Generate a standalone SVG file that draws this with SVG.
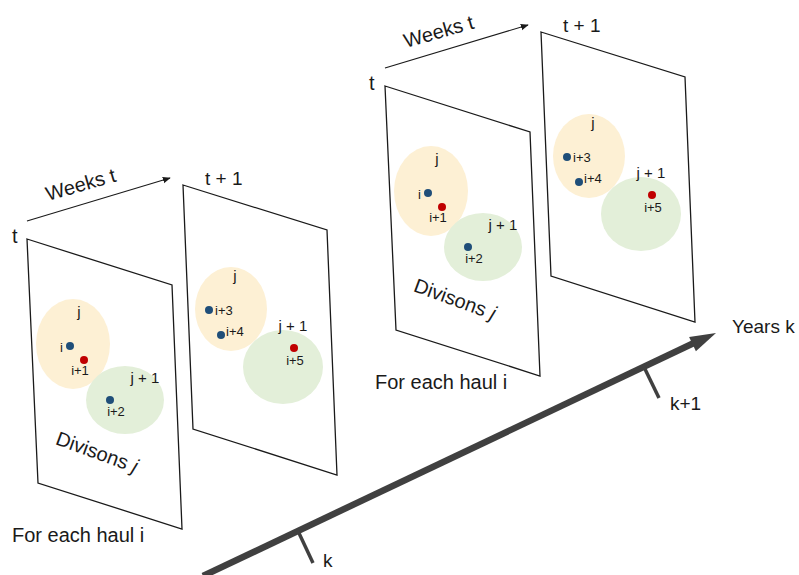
<svg xmlns="http://www.w3.org/2000/svg" width="799" height="575" viewBox="0 0 799 575">
<style>
  text { font-family: "Liberation Sans", Arial, sans-serif; fill: #1a1a1a; }
  .panel { fill: #ffffff; stroke: #1a1a1a; stroke-width: 1.3; stroke-linejoin: miter; }
  .divj { fill: #fdf0d4; }
  .divj1 { fill: #e3efd9; }
  .blue { fill: #1f4e79; }
  .red { fill: #c00000; }
  .lbl { font-size: 13px; }
  .div { font-size: 15px; }
  .big { font-size: 20px; }
  .mid { font-size: 19px; }
  .wk { font-size: 20px; }
  .thin { stroke: #1a1a1a; stroke-width: 1.1; fill: none; }
  .axis { stroke: #404040; stroke-width: 6.5; fill: none; }
  .tick { stroke: #404040; stroke-width: 3.5; fill: none; }
</style>
<defs>
  <marker id="sm" viewBox="0 0 10 10" refX="9" refY="5" markerWidth="8" markerHeight="8" markerUnits="userSpaceOnUse" orient="auto">
    <path d="M0,1 L10,5 L0,9 z" fill="#1a1a1a"/>
  </marker>
</defs>

<!-- Year k (left) -->
<g id="year-k">
  <g id="week-t-k">
    <polygon class="panel" points="27,239 172,285 182,529 38,483"/>
    <ellipse class="divj" cx="73" cy="344" rx="37" ry="45"/>
    <ellipse class="divj1" cx="125" cy="400" rx="39" ry="34"/>
    <text class="div" x="79" y="317" text-anchor="middle">j</text>
    <circle class="blue" cx="70" cy="346" r="4"/>
    <text class="lbl" x="61.5" y="352" text-anchor="middle">i</text>
    <circle class="red" cx="84" cy="360" r="4"/>
    <text class="lbl" x="80" y="375" text-anchor="middle">i+1</text>
    <text class="div" x="145" y="383" text-anchor="middle">j + 1</text>
    <circle class="blue" cx="110" cy="400" r="4"/>
    <text class="lbl" x="116" y="416" text-anchor="middle">i+2</text>
    <text class="big" x="97" y="459" text-anchor="middle" transform="rotate(20 97 452)">Divisons <tspan font-style="italic">j</tspan></text>
    <text class="big" x="12" y="243">t</text>
    <text class="big" x="12" y="542">For each haul i</text>
  </g>
  <g id="week-t1-k">
    <polygon class="panel" points="183,185 327,230 337,475 193,429"/>
    <ellipse class="divj" cx="231" cy="309" rx="36" ry="42"/>
    <ellipse class="divj1" cx="283" cy="367" rx="40" ry="37"/>
    <text class="div" x="235" y="281" text-anchor="middle">j</text>
    <circle class="blue" cx="209" cy="310" r="4"/>
    <text class="lbl" x="215" y="315">i+3</text>
    <circle class="blue" cx="221" cy="335" r="4"/>
    <text class="lbl" x="226" y="336">i+4</text>
    <text class="div" x="293" y="331" text-anchor="middle">j + 1</text>
    <circle class="red" cx="294" cy="348" r="4"/>
    <text class="lbl" x="295" y="365" text-anchor="middle">i+5</text>
    <text class="mid" x="205" y="185">t + 1</text>
  </g>
  <text class="wk" x="48" y="201" transform="rotate(-16 48 201)">Weeks t</text>
</g>

<!-- Year k+1 (right) -->
<g id="year-k1" transform="translate(358,-153)">
  <g id="week-t-k1">
    <polygon class="panel" points="27,239 172,285 182,529 38,483"/>
    <ellipse class="divj" cx="73" cy="344" rx="37" ry="45"/>
    <ellipse class="divj1" cx="125" cy="400" rx="39" ry="34"/>
    <text class="div" x="79" y="317" text-anchor="middle">j</text>
    <circle class="blue" cx="70" cy="346" r="4"/>
    <text class="lbl" x="61.5" y="352" text-anchor="middle">i</text>
    <circle class="red" cx="84" cy="360" r="4"/>
    <text class="lbl" x="80" y="375" text-anchor="middle">i+1</text>
    <text class="div" x="145" y="383" text-anchor="middle">j + 1</text>
    <circle class="blue" cx="110" cy="400" r="4"/>
    <text class="lbl" x="116" y="416" text-anchor="middle">i+2</text>
    <text class="big" x="97" y="459" text-anchor="middle" transform="rotate(20 97 452)">Divisons <tspan font-style="italic">j</tspan></text>
    <text class="big" x="11" y="243">t</text>
    <text class="big" x="17" y="542">For each haul i</text>
  </g>
  <g id="week-t1-k1">
    <polygon class="panel" points="183,185 327,230 337,475 193,429"/>
    <ellipse class="divj" cx="231" cy="309" rx="36" ry="42"/>
    <ellipse class="divj1" cx="283" cy="367" rx="40" ry="37"/>
    <text class="div" x="235" y="281" text-anchor="middle">j</text>
    <circle class="blue" cx="209" cy="310" r="4"/>
    <text class="lbl" x="215" y="315">i+3</text>
    <circle class="blue" cx="221" cy="335" r="4"/>
    <text class="lbl" x="226" y="336">i+4</text>
    <text class="div" x="293" y="331" text-anchor="middle">j + 1</text>
    <circle class="red" cx="294" cy="348" r="4"/>
    <text class="lbl" x="295" y="365" text-anchor="middle">i+5</text>
    <text class="mid" x="205" y="185">t + 1</text>
  </g>
  <text class="wk" x="48" y="201" transform="rotate(-16 48 201)">Weeks t</text>
</g>

<!-- Connectors -->
<g id="connectors">
  <line class="thin" x1="27" y1="221" x2="170" y2="178" marker-end="url(#sm)"/>
  <line class="thin" x1="385" y1="68" x2="528" y2="25" marker-end="url(#sm)"/>
  <line class="axis" x1="203" y1="576" x2="696" y2="342"/>
  <polygon points="716,333 695.9,351.3 689.1,336.9" fill="#404040"/>
  <line class="tick" x1="298" y1="531" x2="313" y2="563"/>
  <line class="tick" x1="644" y1="367" x2="659" y2="398"/>
</g>

<g id="axis-labels">
  <text class="mid" x="732" y="333">Years k</text>
  <text class="mid" x="670" y="410">k+1</text>
  <text class="mid" x="323" y="567">k</text>
</g>
</svg>
